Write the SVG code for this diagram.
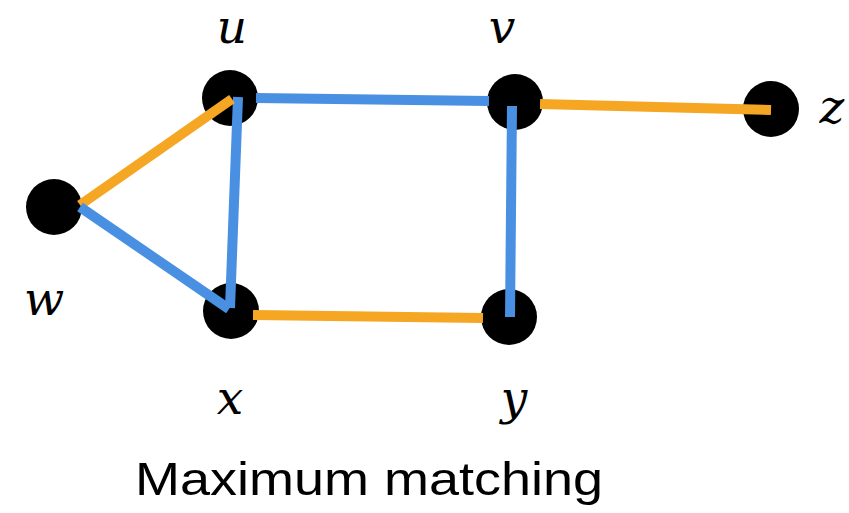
<svg xmlns="http://www.w3.org/2000/svg" width="849" height="513" viewBox="0 0 849 513">
<style>
.n{fill:#000}
.b{stroke:#4A90E2;stroke-width:10;fill:none}
.o{stroke:#F5A623;stroke-width:10;fill:none}
.lbl{font-family:"DejaVu Serif","Liberation Serif",serif;font-style:italic;font-size:47px;fill:#000;text-anchor:middle}
.cap{font-family:"Liberation Sans",Arial,sans-serif;font-size:46px;fill:#000}
</style>
<rect width="849" height="513" fill="#fff"/>
<g id="node-u"><circle class="n" cx="230" cy="98" r="28"/><text class="lbl" x="232" y="43">u</text></g>
<g id="node-v"><circle class="n" cx="515" cy="102" r="28"/><text class="lbl" x="502" y="43">v</text></g>
<g id="node-z"><circle class="n" cx="771" cy="109" r="28"/><text class="lbl" x="832" y="123">z</text></g>
<g id="node-w"><circle class="n" cx="54" cy="207" r="28"/><text class="lbl" x="44" y="315">w</text></g>
<g id="node-x"><circle class="n" cx="231" cy="311" r="28"/><text class="lbl" x="230" y="414">x</text></g>
<g id="node-y"><circle class="n" cx="509" cy="317" r="28"/><text class="lbl" x="514" y="414">y</text></g>
<g id="connectors">
<line class="b" x1="256" y1="98" x2="489" y2="101"/>
<line class="b" x1="238" y1="97" x2="230" y2="308"/>
<line class="o" x1="232" y1="99" x2="80" y2="205"/>
<line class="b" x1="80" y1="207" x2="229" y2="309"/>
<line class="o" x1="253" y1="315" x2="483" y2="318"/>
<line class="b" x1="512" y1="106" x2="510" y2="317"/>
<line class="o" x1="540" y1="104" x2="771" y2="110"/>
</g>
<text class="cap" x="135" y="495" textLength="468" lengthAdjust="spacingAndGlyphs">Maximum matching</text>
</svg>
